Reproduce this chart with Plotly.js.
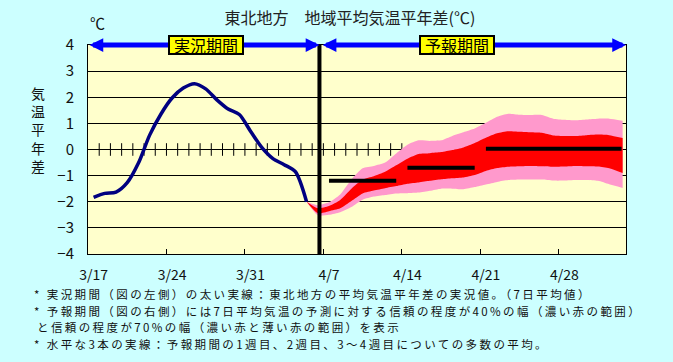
<!DOCTYPE html>
<html>
<head>
<meta charset="utf-8">
<script src="https://cdn.plot.ly/plotly-3.0.1.min.js"></script>
<style>
html,body{margin:0;padding:0;background:#CCFFFF;}
#chart{width:673px;height:362px;}
.annotation[data-index="6"] text,
.annotation[data-index="7"] text,
.annotation[data-index="8"] text,
.annotation[data-index="9"] text{letter-spacing:2.4px;}
</style>
</head>
<body>
<div id="chart"></div>
<script>
// ---- data (days counted from 3/17 = 0) ----
const tickDays = [0, 7, 14, 21, 28, 35, 42];
const tickLabels = ['3/17', '3/24', '3/31', '4/7', '4/14', '4/21', '4/28'];

const obsDays = [0,1,2,3,4,5,6,7,8,9,10,11,12,13,14,15,16,17,18,19];
const obsValues = [-1.83,-1.68,-1.63,-1.27,-0.52,0.55,1.35,1.97,2.35,2.52,2.32,1.90,1.55,1.34,0.70,0.08,-0.35,-0.58,-0.85,-2.00];

const fcDays = [19,20,21,22,23,24,25,26,27,28,29,30,31,32,33,34,35,36,37,38,39,40,41,42,43,44,45,46,47.2];
const fc70Upper = [-2.00,-2.13,-2.02,-1.72,-1.15,-0.72,-0.63,-0.50,-0.15,0.18,0.35,0.33,0.35,0.52,0.66,0.80,1.02,1.25,1.37,1.33,1.32,1.32,1.18,1.14,1.12,1.15,1.18,1.18,1.10];
const fc40Upper = [-2.00,-2.25,-2.16,-1.93,-1.50,-1.15,-1.02,-0.85,-0.60,-0.35,-0.17,-0.14,-0.10,-0.02,0.08,0.25,0.45,0.62,0.70,0.68,0.66,0.64,0.54,0.52,0.52,0.55,0.57,0.55,0.44];
const fc40Lower = [-2.00,-2.44,-2.36,-2.25,-1.97,-1.68,-1.57,-1.48,-1.40,-1.31,-1.26,-1.20,-1.14,-1.10,-1.07,-0.98,-0.82,-0.71,-0.66,-0.64,-0.63,-0.64,-0.66,-0.65,-0.63,-0.64,-0.65,-0.72,-0.90];
const fc70Lower = [-2.00,-2.52,-2.50,-2.40,-2.20,-1.92,-1.80,-1.74,-1.68,-1.67,-1.65,-1.58,-1.50,-1.50,-1.52,-1.44,-1.34,-1.24,-1.17,-1.15,-1.15,-1.15,-1.19,-1.19,-1.17,-1.17,-1.20,-1.33,-1.47];

const periodStart = [21, 28, 35];
const periodEnd = [27, 34, 47.1];
const periodMean = [-1.20, -0.70, 0.03];

const forecastBoundary = 20.15;
const dayMin = -0.5, dayMax = 47.5;

// ---- geometry helpers ----
const W = 673, H = 362;
const M = {l: 88, r: 47, t: 45, b: 108};
const PW = W - M.l - M.r, PH = H - M.t - M.b;
const px = x => (x - M.l) / PW;
const py = y => (H - M.b - y) / PH;

const FONT = '"Noto Sans CJK JP", "Noto Sans", sans-serif';

const traces = [];

// minor ticks on zero line (day boundaries)
const zeroTickDays = [];
for (let i = 1; i <= 28; i++) zeroTickDays.push(i - 0.5);
traces.push({
  x: zeroTickDays, y: zeroTickDays.map(() => 0), mode: 'markers', type: 'scatter',
  marker: {symbol: 'line-ns-open', size: 9, color: '#000', line: {width: 1, color: '#000'}},
  hoverinfo: 'skip', cliponaxis: false
});

// 70% band
traces.push({x: fcDays, y: fc70Lower, mode: 'lines', line: {width: 0, shape: 'spline', smoothing: 0.6}, hoverinfo: 'skip'});
traces.push({x: fcDays, y: fc70Upper, mode: 'lines', line: {width: 0, shape: 'spline', smoothing: 0.6}, fill: 'tonexty', fillcolor: '#FF99CC', hoverinfo: 'skip'});
// 40% band
traces.push({x: fcDays, y: fc40Lower, mode: 'lines', line: {width: 0, shape: 'spline', smoothing: 0.6}, hoverinfo: 'skip'});
traces.push({x: fcDays, y: fc40Upper, mode: 'lines', line: {width: 0, shape: 'spline', smoothing: 0.6}, fill: 'tonexty', fillcolor: '#FF0000', hoverinfo: 'skip'});

// period means
for (let i = 0; i < periodMean.length; i++) {
  traces.push({
    x: [periodStart[i], periodEnd[i]], y: [periodMean[i], periodMean[i]],
    mode: 'lines', line: {width: 4, color: '#000'}, hoverinfo: 'skip'
  });
}

// observed line
traces.push({
  x: obsDays, y: obsValues, mode: 'lines',
  line: {width: 3.5, color: '#000080', shape: 'spline', smoothing: 0.8}, hoverinfo: 'skip'
});

// dummy for xaxis2 (boundary ticks)
traces.push({x: [dayMin], y: [0], xaxis: 'x2', mode: 'markers', marker: {opacity: 0}, hoverinfo: 'skip'});

const boundaryTicks = [];
for (let i = 1; i < tickDays.length; i++) boundaryTicks.push(tickDays[i] - 0.5);

const noteFont = {family: FONT, size: 11.5, color: '#111'};

const layout = {
  width: W, height: H,
  margin: M,
  paper_bgcolor: '#CCFFFF',
  plot_bgcolor: '#FFFFCC',
  showlegend: false,
  font: {family: FONT, size: 14, color: '#111'},
  title: {
    text: '東北地方　地域平均気温平年差(℃)',
    x: 350 / W, xanchor: 'center', y: 1 - 18 / H, yanchor: 'middle',
    font: {family: FONT, size: 16, color: '#222'}
  },
  xaxis: {
    range: [dayMin, dayMax], tickvals: tickDays, ticktext: tickLabels,
    ticks: '', showgrid: false, zeroline: false,
    showline: true, linecolor: '#000', linewidth: 1, mirror: true,
    tickfont: {family: FONT, size: 14, color: '#111'}, ticklabelstandoff: 8
  },
  xaxis2: {
    range: [dayMin, dayMax], overlaying: 'x', anchor: 'y', side: 'bottom',
    tickvals: boundaryTicks, ticks: 'inside', ticklen: 5, tickcolor: '#000', tickwidth: 1,
    showticklabels: false, showgrid: false, zeroline: false, showline: false
  },
  yaxis: {
    range: [-4, 4], dtick: 1, tick0: 0,
    showgrid: true, gridcolor: '#000', gridwidth: 1,
    zeroline: true, zerolinecolor: '#000', zerolinewidth: 1,
    showline: true, linecolor: '#000', linewidth: 1, mirror: true,
    ticks: '', ticklabelstandoff: 10,
    tickfont: {family: FONT, size: 15, color: '#111'}
  },
  shapes: [
    {type: 'line', xref: 'x', yref: 'y', x0: forecastBoundary, x1: forecastBoundary, y0: -4, y1: 4,
     line: {color: '#000', width: 4}, layer: 'above'}
  ],
  annotations: [
    // period arrows
    {xref: 'x', yref: 'y', axref: 'x', ayref: 'y', x: forecastBoundary, y: 4, ax: dayMin, ay: 4,
     text: '', showarrow: true, arrowside: 'end+start', arrowhead: 2, startarrowhead: 2,
     arrowsize: 0.55, startarrowsize: 0.55, arrowwidth: 5, arrowcolor: '#0000FF'},
    {xref: 'x', yref: 'y', axref: 'x', ayref: 'y', x: dayMax, y: 4, ax: forecastBoundary + 0.15, ay: 4,
     text: '', showarrow: true, arrowside: 'end+start', arrowhead: 2, startarrowhead: 2,
     arrowsize: 0.55, startarrowsize: 0.55, arrowwidth: 5, arrowcolor: '#0000FF'},
    // period labels
    {xref: 'x', yref: 'y', x: 10.05, y: 4, text: '実況期間', showarrow: false,
     bgcolor: '#FFFF00', bordercolor: '#000', borderwidth: 2, borderpad: 0, width: 72, height: 16,
     font: {family: FONT, size: 16, color: '#000'}},
    {xref: 'x', yref: 'y', x: 32.4, y: 4, text: '予報期間', showarrow: false,
     bgcolor: '#FFFF00', bordercolor: '#000', borderwidth: 2, borderpad: 0, width: 72, height: 16,
     font: {family: FONT, size: 16, color: '#000'}},
    // unit
    {xref: 'paper', yref: 'paper', x: px(97), y: py(23), text: '℃', showarrow: false,
     xanchor: 'center', yanchor: 'middle', font: {family: FONT, size: 15, color: '#111'}},
    // y title
    {xref: 'paper', yref: 'paper', x: px(38), y: py(129), text: '気<br>温<br>平<br>年<br>差', showarrow: false,
     xanchor: 'center', yanchor: 'middle', font: {family: FONT, size: 14, color: '#111'}},
    // notes
    {xref: 'paper', yref: 'paper', x: px(32), y: py(294), xanchor: 'left', yanchor: 'middle', align: 'left', showarrow: false,
     text: '* 実況期間（図の左側）の太い実線：東北地方の平均気温平年差の実況値。（7日平均値）', font: noteFont},
    {xref: 'paper', yref: 'paper', x: px(32), y: py(310.5), xanchor: 'left', yanchor: 'middle', align: 'left', showarrow: false,
     text: '* 予報期間（図の右側）には7日平均気温の予測に対する信頼の程度が40%の幅（濃い赤の範囲）', font: noteFont},
    {xref: 'paper', yref: 'paper', x: px(35), y: py(327), xanchor: 'left', yanchor: 'middle', align: 'left', showarrow: false,
     text: 'と信頼の程度が70%の幅（濃い赤と薄い赤の範囲）を表示', font: noteFont},
    {xref: 'paper', yref: 'paper', x: px(32), y: py(343.5), xanchor: 'left', yanchor: 'middle', align: 'left', showarrow: false,
     text: '* 水平な3本の実線：予報期間の1週目、2週目、3～4週目についての多数の平均。', font: noteFont}
  ]
};

Plotly.newPlot('chart', traces, layout, {staticPlot: true, displayModeBar: false});
</script>
</body>
</html>
